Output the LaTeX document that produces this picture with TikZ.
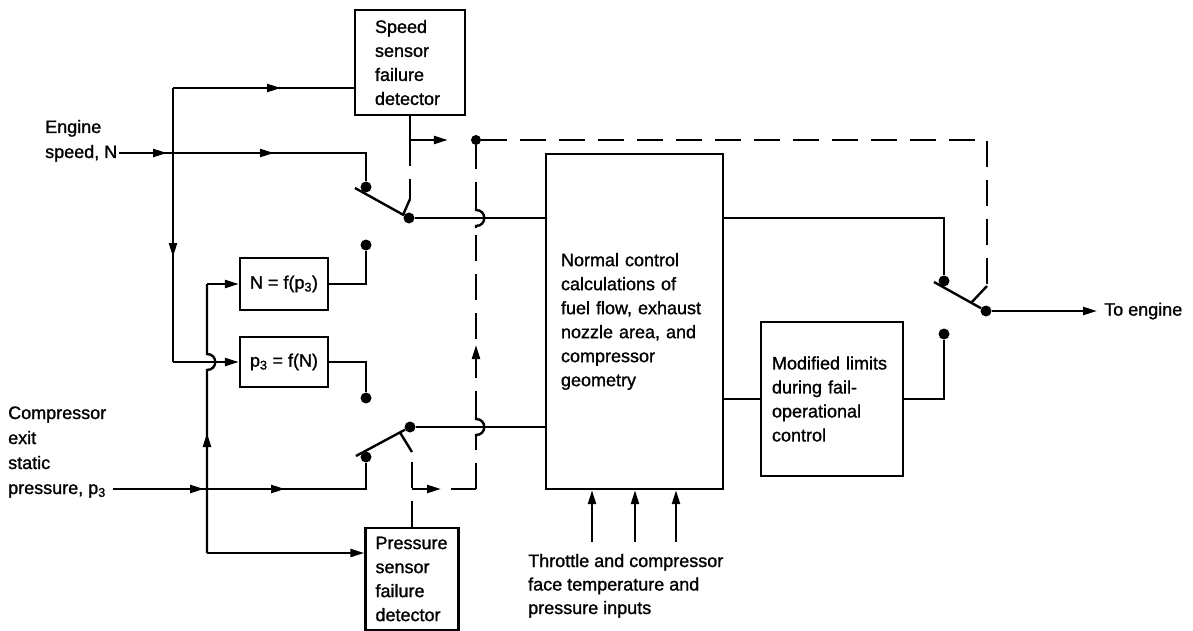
\documentclass[tikz,border=0pt]{standalone}
\usepackage{fontspec}
\setmainfont{Liberation Sans}[RawFeature={embolden=1.2}]
\usetikzlibrary{arrows.meta,calc}
\begin{document}
\begin{tikzpicture}[x=1pt,y=-1pt,
  font=\fontsize{18}{24}\selectfont,
  ln/.style={line width=2.4pt},
  dsh/.style={line width=2.4pt, dash pattern=on 26pt off 13pt},
  tip/.style={-{Triangle[length=14pt,width=8pt]}},
  dot/.style={circle, fill=black, inner sep=0pt, minimum size=11pt},
  box/.style={draw, line width=2.4pt, inner ysep=0pt},
  lbl/.style={align=left, inner sep=0pt, font=\fontsize{18}{25}\selectfont}]
\useasboundingbox (0,0) rectangle (1193,631);

% boxes
\node[box, text width=70pt, inner xsep=20pt, minimum height=105pt, align=left] (sd) at (410,62.5) {Speed\\sensor\\failure\\detector};
\node[box, text width=73pt, inner xsep=10pt, minimum height=102pt, align=left] (pd) at (412,579) {Pressure\\sensor\\failure\\detector};
\node[box, minimum width=88pt, minimum height=52pt] (nf) at (284,284) {N = f(p\textsubscript{3})};
\node[box, minimum width=88pt, minimum height=50pt] (pf) at (284,362) {p\textsubscript{3} = f(N)};
\node[box, text width=147pt, inner xsep=15pt, minimum height=335pt, align=left] (nc) at (634.5,321.5) {Normal control\\calculations of\\fuel flow, exhaust\\nozzle area, and\\compressor\\geometry};
\node[box, text width=120pt, inner xsep=11pt, minimum height=154pt, align=left] (ml) at (832,399) {Modified limits\\during fail-\\operational\\control};

% labels (base anchor = baseline of the last line)
\node[lbl, anchor=base west] (englbl) at (45,158) {Engine\\speed, N};
\node[lbl, anchor=base west] (p3lbl) at (8,494) {Compressor\\exit\\static\\pressure, p\textsubscript{3}};
\node[lbl, anchor=base west, font=\fontsize{18}{23.5}\selectfont] (thr) at (528,614) {Throttle and compressor\\face temperature and\\pressure inputs};
\node[anchor=west, inner sep=0pt] (toeng) at (1104,311) {To engine};

% coordinates
\coordinate (engin) at (119,153);
\coordinate (p3in) at (113,489);
\coordinate (jA) at (173,153);
\coordinate (jAtop) at (173,88);
\coordinate (jAbot) at (173,362);
\coordinate (jB) at (207,489);
\coordinate (jBtop) at (207,284);
\coordinate (jBbot) at (207,553);
\coordinate (ea1) at (167,153);
\coordinate (ea2) at (274,153);
\coordinate (sa1) at (281,88);
\coordinate (va1) at (173,257);
\coordinate (pa1) at (204,489);
\coordinate (pa2) at (285,489);
\coordinate (vb1) at (207,433);

% top switch
\coordinate (k1) at (366,153);
\node[dot] (c1) at (366,187) {};
\node[dot] (c2) at (366,245) {};
\coordinate (k2) at (366,284);
\node[dot] (p1) at (409,218) {};
\coordinate (b1) at (355,188);
\coordinate (l1a) at (403,215);
\coordinate (l1b) at (410,199);
\coordinate (sdturn) at (410,140);

% bottom switch
\coordinate (k3) at (366,489);
\node[dot] (c3) at (366,457) {};
\node[dot] (c4) at (366,398) {};
\coordinate (k4) at (366,362);
\node[dot] (p2) at (410,427) {};
\coordinate (b2) at (356,456);
\coordinate (l2a) at (400,432.5);
\coordinate (l2b) at (412,452);
\coordinate (pdbr) at (412,489);
\coordinate (pb1) at (441,489);

% junction of failure signals
\node[dot, minimum size=10pt] (jn) at (476,140) {};
\coordinate (jnb) at (476,489);
\coordinate (h1a) at (476,437);
\coordinate (h1b) at (476,417);
\coordinate (h2a) at (476,228);
\coordinate (h2b) at (476,208);
\coordinate (ua0) at (476,372);
\coordinate (ua1) at (476,345);

% output switch
\node[dot] (c5) at (944,281) {};
\node[dot] (c6) at (944,334) {};
\node[dot] (p3) at (986,311) {};
\coordinate (b3) at (934,282);
\coordinate (l3a) at (971,303);
\coordinate (l3b) at (987,286);
\coordinate (dtr) at (987,140);
\coordinate (k5) at (944,218);
\coordinate (k6) at (944,399);

% throttle inputs
\coordinate (i1) at (592,542);
\coordinate (i2) at (635,542);
\coordinate (i3) at (676,542);

% engine speed signal
\draw[ln] (engin) -- (k1) -- (c1);
\draw[ln,tip] (engin) -- (ea1);
\draw[ln,tip] (jA) -- (ea2);
\draw[ln] (jAtop) -- (jAbot);
\draw[ln,tip] (jAbot) -- (pf.west);
\draw[ln,tip] (jA) -- (va1);
\draw[ln] (jAtop) -- (sd.west |- jAtop);
\draw[ln,tip] (jAtop) -- (sa1);

% compressor pressure signal
\draw[ln] (p3in) -- (k3) -- (c3);
\draw[ln,tip] (p3in) -- (pa1);
\draw[ln,tip] (jB) -- (pa2);
\draw[ln] (jBbot) -- (207,370) .. controls (218,370) and (218,354) .. (207,354) -- (jBtop);
\draw[ln,tip] (jBtop) -- (nf.west);
\draw[ln,tip] (jBbot) -- (pd.west |- jBbot);
\draw[ln,tip] (jB) -- (vb1);

% model outputs
\draw[ln] (nf.east) -- (k2) -- (c2);
\draw[ln] (pf.east) -- (k4) -- (c4);

% top switch
\draw[ln] (b1) -- (p1);
\draw[ln] (l1a) -- (l1b);
\draw[dsh] (sdturn) -- (l1b);
\draw[ln] (sd.south) -- (sdturn);
\draw[ln,tip,shorten >=23pt] (sdturn) -- (jn);
\draw[ln] (p1) -- (nc.west |- p1);

% bottom switch
\draw[ln] (b2) -- (p2);
\draw[ln] (l2a) -- (l2b);
\draw[dsh] (pd.north) -- (l2b);
\draw[ln] (p2) -- (nc.west |- p2);

% pressure failure branch
\draw[dsh] (pdbr) -- (jnb);
\draw[ln,tip] (pdbr) -- (pb1);
\draw[dsh] (jnb) -- (h1a);
\draw[ln] (h1a) -- (476,435) .. controls (487,435) and (487,419) .. (476,419) -- (h1b);
\draw[dsh] (h1b) -- (h2a);
\draw[ln] (h2a) -- (476,226) .. controls (487,226) and (487,210) .. (476,210) -- (h2b);
\draw[dsh] (h2b) -- (jn);
\draw[ln,tip] (ua0) -- (ua1);

% to output switch
\draw[dsh] (jn) -- (dtr) -- (l3b);
\draw[ln] (l3b) -- (l3a);
\draw[ln] (nc.east |- p1) -- (k5) -- (c5);
\draw[ln] (nc.east |- ml.west) -- (ml.west);
\draw[ln] (ml.east) -- (k6) -- (c6);
\draw[ln] (b3) -- (p3);
\draw[ln,tip,shorten >=7pt] (p3) -- (toeng.west);

% throttle inputs
\draw[ln,tip] (i1) -- (i1 |- nc.south);
\draw[ln,tip] (i2) -- (i2 |- nc.south);
\draw[ln,tip] (i3) -- (i3 |- nc.south);
\end{tikzpicture}
\end{document}
